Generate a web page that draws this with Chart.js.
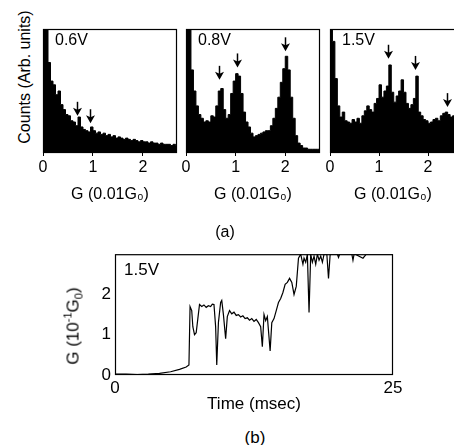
<!DOCTYPE html>
<html>
<head>
<meta charset="utf-8">
<script src="https://cdn.jsdelivr.net/npm/chart.js@4.4.0/dist/chart.umd.min.js"></script>
<style>
  body { margin: 0; background: #fff; width: 454px; height: 445px; overflow: hidden; position: relative;
         font-family: "Liberation Sans", Arial, sans-serif; color: #000; }
  canvas { position: absolute; }
  .txt { position: absolute; white-space: nowrap; transform: translate(-50%, -50%); line-height: 1; }
  .rot { transform: translate(-50%, -50%) rotate(-90deg); }
  sup, sub { font-size: 65%; line-height: 0; }
</style>
</head>
<body>
<canvas id="h06" width="154" height="204" style="left:33px;top:0px"></canvas>
<canvas id="h08" width="154" height="204" style="left:176px;top:0px"></canvas>
<canvas id="h15" width="146" height="204" style="left:320px;top:0px"></canvas>
<canvas id="trace" width="325" height="175" style="left:85px;top:240px"></canvas>

<div class="txt rot" style="left:25px;top:77px;font-size:16px">Counts (Arb. units)</div>
<div class="txt" style="left:225px;top:232px;font-size:16px">(a)</div>
<div class="txt rot" style="left:73px;top:326px;font-size:17px">G (10<sup>-1</sup>G<sub>0</sub>)</div>
<div class="txt" style="left:255px;top:437px;font-size:17px">(b)</div>

<script>
const FONT = '"Liberation Sans", Arial, sans-serif';

// histogram bins (G in 0.01 G0), bin starts
const gBins = [0.00, 0.05, 0.10, 0.15, 0.20, 0.25, 0.30, 0.35, 0.40, 0.45,
               0.50, 0.55, 0.60, 0.65, 0.70, 0.75, 0.80, 0.85, 0.90, 0.95,
               1.00, 1.05, 1.10, 1.15, 1.20, 1.25, 1.30, 1.35, 1.40, 1.45,
               1.50, 1.55, 1.60, 1.65, 1.70, 1.75, 1.80, 1.85, 1.90, 1.95,
               2.00, 2.05, 2.10, 2.15, 2.20, 2.25, 2.30, 2.35, 2.40, 2.45,
               2.50, 2.55, 2.60, 2.65, 2.70];

const counts06 = [120, 110, 73, 58, 55, 47, 50, 39, 35, 31,
                  30, 26, 25, 22, 29, 21, 19, 18, 17, 21,
                  18, 16, 17, 15, 16, 14, 15, 13, 14, 12,
                  13, 12, 11, 12, 11, 10, 11, 10, 9, 10,
                  9, 9, 8, 9, 8, 8, 7, 8, 7, 7,
                  7, 6, 7, 6, 6];

const counts08 = [120, 110, 67, 50, 38, 31, 28, 25, 26, 25,
                  30, 29, 38, 50, 52, 35, 28, 31, 48, 58,
                  64, 62, 48, 33, 25, 21, 16, 13, 14, 15,
                  16, 17, 18, 18, 22, 28, 36, 45, 57, 68,
                  78, 67, 45, 28, 14, 8, 6, 4, 4, 3,
                  3, 3, 3, 3, 3];

const counts15 = [120, 90, 60, 38, 29, 33, 26, 25, 24, 27,
                  25, 28, 24, 30, 34, 38, 35, 33, 40, 44,
                  55, 45, 50, 54, 71, 49, 41, 46, 50, 59,
                  49, 40, 36, 39, 44, 62, 33, 30, 27, 26,
                  24, 25, 27, 28, 26, 30, 32, 33, 31, 29,
                  30, 28, 28, 28, 28];

const histTicks = [0, 1, 2];

// arrows marking peaks: G position and tip height
const arrowsG06 = [0.68, 0.94];
const arrowsTip06 = [30, 24];
const arrowsG08 = [0.67, 1.02, 2.0];
const arrowsTip08 = [59, 69, 82];
const arrowsG15 = [1.18, 1.73, 2.38];
const arrowsTip15 = [76, 67, 37];

// conductance trace at 1.5 V
const traceTime = [0, 1, 2, 3, 4, 5, 5.8, 6.4, 6.65, 6.75,
                   6.9, 7.0, 7.15, 7.3, 7.45, 7.6, 7.8, 8.0, 8.2, 8.4,
                   8.6, 8.75, 8.9, 9.05, 9.15, 9.3, 9.5, 9.6, 9.75, 9.95,
                   10.1, 10.3, 10.5, 10.7, 10.9, 11.1, 11.3, 11.5, 11.7, 11.9,
                   12.1, 12.3, 12.5, 12.7, 12.9, 13.1, 13.25, 13.4, 13.55, 13.7,
                   13.95, 14.1, 14.3, 14.5, 14.7, 14.9, 15.1, 15.3, 15.5, 15.7,
                   15.9, 16.1, 16.3, 16.5, 16.7, 16.9, 17.0, 17.15, 17.3, 17.45,
                   17.6, 17.75, 17.9, 18.05, 18.2, 18.35, 18.5, 18.65, 18.8, 19.05,
                   19.2, 19.35, 20.0, 20.1, 20.2, 20.3, 21.3, 21.4, 21.5, 21.6,
                   22.3, 22.6, 25];
const traceG = [0.02, 0.02, 0.01, 0.02, 0.04, 0.08, 0.14, 0.2, 0.25, 1.7,
                1.6, 1.2, 1.0, 1.05, 1.4, 1.75, 1.7, 1.74, 1.68, 1.72,
                1.7, 1.76, 1.75, 1.2, 0.25, 1.3, 1.8, 1.85, 1.5, 0.9,
                1.45, 1.6, 1.52, 1.56, 1.48, 1.5, 1.44, 1.47, 1.4, 1.42,
                1.36, 1.4, 1.33, 1.38, 1.3, 1.2, 0.7, 1.5, 1.35, 1.45,
                0.6, 1.3, 1.4, 1.6, 1.8, 1.9, 2.05, 2.25, 2.3, 2.4,
                2.3, 2.0, 2.2, 2.9, 3.0, 2.75, 2.9, 2.8, 3.0, 1.55,
                3.0, 2.8, 2.95, 2.75, 3.0, 2.85, 2.95, 2.8, 3.0, 3.0,
                2.4, 3.0, 3.0, 2.92, 3.0, 3.0, 3.0, 2.85, 3.0, 3.0,
                2.9, 3.0, 3.0];
const traceXTicks = [0, 25];
const traceYTicks = [0, 1, 2];

const panelDeco = {
  id: 'panelDeco',
  afterDatasetsDraw(chart, args, opts) {
    const { ctx, chartArea: a, scales } = chart;
    ctx.save();
    ctx.strokeStyle = '#000';
    ctx.fillStyle = '#000';
    ctx.lineWidth = 1.2;
    ctx.strokeRect(a.left + 0.5, a.top + 0.5, a.right - a.left - 1, a.bottom - a.top - 1);
    if (opts.label) {
      ctx.font = opts.fontSize + 'px ' + FONT;
      ctx.textBaseline = 'top';
      ctx.fillText(opts.label, a.left + opts.dx, a.top + opts.dy);
    }
    (opts.arrowsG || []).forEach((g, i) => {
      const px = Math.round(scales.x.getPixelForValue(g)) + 0.5;
      const tip = scales.y.getPixelForValue(opts.arrowsTip[i]);
      ctx.lineWidth = 1.5;
      ctx.beginPath();
      ctx.moveTo(px, tip - 14);
      ctx.lineTo(px, tip - 5);
      ctx.stroke();
      ctx.beginPath();
      ctx.moveTo(px - 4.5, tip - 8);
      ctx.lineTo(px, tip - 6);
      ctx.lineTo(px + 4.5, tip - 8);
      ctx.lineTo(px, tip);
      ctx.closePath();
      ctx.fill();
    });
    ctx.restore();
  }
};

function makeHist(id, counts, xMax, label, arrowsG, arrowsTip) {
  return new Chart(document.getElementById(id), {
    type: 'line',
    data: {
      datasets: [{
        data: gBins.map((g, i) => ({ x: g, y: counts[i] })),
        stepped: 'before',
        fill: 'origin',
        backgroundColor: '#000',
        borderColor: '#000',
        borderWidth: 1,
        pointRadius: 0
      }]
    },
    options: {
      responsive: false,
      animation: false,
      layout: { padding: { left: 10, right: 10, top: 29, bottom: 0 } },
      plugins: {
        legend: { display: false },
        tooltip: { enabled: false },
        panelDeco: { label, dx: 12, dy: 4, fontSize: 16, arrowsG, arrowsTip }
      },
      scales: {
        x: {
          type: 'linear', min: 0, max: xMax,
          border: { display: false },
          grid: { drawOnChartArea: false, tickLength: 3, color: '#000' },
          ticks: { color: '#000', font: { size: 16, family: FONT }, padding: 2, maxRotation: 0 },
          afterBuildTicks: s => { s.ticks = histTicks.map(v => ({ value: v })); },
          title: { display: true, text: 'G (0.01G₀)', color: '#000', font: { size: 16, family: FONT }, padding: 0 },
          afterFit: s => { s.height = 51; }
        },
        y: { display: false, min: 0, max: 100 }
      }
    },
    plugins: [panelDeco]
  });
}

makeHist('h06', counts06, 2.68, '0.6V', arrowsG06, arrowsTip06);
makeHist('h08', counts08, 2.7, '0.8V', arrowsG08, arrowsTip08);
makeHist('h15', counts15, 2.57, '1.5V', arrowsG15, arrowsTip15);

new Chart(document.getElementById('trace'), {
  type: 'line',
  data: {
    datasets: [{
      data: traceTime.map((t, i) => ({ x: t, y: traceG[i] })),
      borderColor: '#000',
      borderWidth: 1.2,
      pointRadius: 0,
      tension: 0,
      fill: false
    }]
  },
  options: {
    responsive: false,
    animation: false,
    layout: { padding: { left: 0, right: 17, top: 14, bottom: 0 } },
    plugins: {
      legend: { display: false },
      tooltip: { enabled: false },
      panelDeco: { label: '1.5V', dx: 9, dy: 8, fontSize: 17 }
    },
    scales: {
      x: {
        type: 'linear', min: 0, max: 25,
        border: { display: false },
        grid: { display: false, drawTicks: false },
        ticks: { color: '#000', font: { size: 17, family: FONT }, padding: 3, maxRotation: 0 },
        afterBuildTicks: s => { s.ticks = traceXTicks.map(v => ({ value: v })); },
        title: { display: true, text: 'Time (msec)', color: '#000', font: { size: 17, family: FONT }, padding: 0 },
        afterFit: s => { s.height = 40; }
      },
      y: {
        min: 0, max: 3,
        border: { display: false },
        grid: { display: false, drawTicks: false },
        ticks: { color: '#000', font: { size: 17, family: FONT }, padding: 4 },
        afterBuildTicks: s => { s.ticks = traceYTicks.map(v => ({ value: v })); },
        afterFit: s => { s.width = 30; }
      }
    }
  },
  plugins: [panelDeco]
});
</script>
</body>
</html>
